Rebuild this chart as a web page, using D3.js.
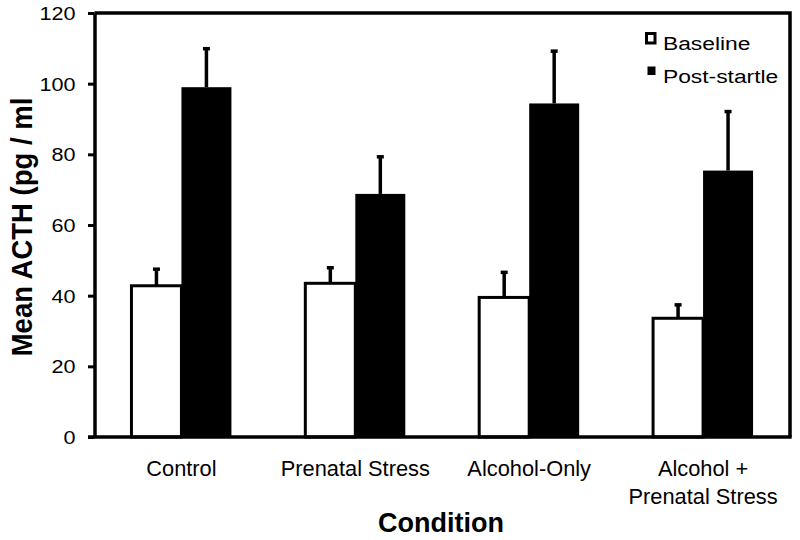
<!DOCTYPE html>
<html>
<head>
<meta charset="utf-8">
<script src="https://cdn.jsdelivr.net/npm/d3@7"></script>
<style>
  body { margin: 0; background: #fff; }
  svg { display: block; }
  text { font-family: "Liberation Sans", Arial, sans-serif; fill: #000; }
</style>
</head>
<body>
<svg id="chart" width="800" height="540"></svg>
<script>
const categories = ["Control", "Prenatal Stress", "Alcohol-Only", "Alcohol +\nPrenatal Stress"];
const seriesNames = ["Baseline", "Post-startle"];
const baselineValues = [42.8, 43.5, 39.5, 33.6];
const baselineErrors = [4.7, 4.4, 7.1, 3.8];
const postValues = [99.0, 68.8, 94.4, 75.4];
const postErrors = [10.9, 10.5, 14.8, 16.7];
const yTicks = [0, 20, 40, 60, 80, 100, 120];
const yTitle = "Mean ACTH (pg / ml";
const xTitle = "Condition";

const mLeft = 94.5, mRight = 790, mTop = 13, mBottom = 437;

const svg = d3.select("#chart");

const x0 = d3.scaleBand().domain(categories).range([mLeft, mRight])
  .paddingInner(0.425).paddingOuter(0.2125);
const x1 = d3.scaleBand().domain(seriesNames).range([0, x0.bandwidth()]);
const y = d3.scaleLinear().domain([0, 120]).range([mBottom, mTop]);

const data = categories.map((c, i) => ({
  cat: c,
  vals: [
    { s: "Baseline", v: baselineValues[i], e: baselineErrors[i] },
    { s: "Post-startle", v: postValues[i], e: postErrors[i] }
  ]
}));

const groups = svg.append("g").selectAll("g").data(data).join("g")
  .attr("transform", d => `translate(${x0(d.cat)},0)`);

groups.selectAll("line.stem").data(d => d.vals).join("line")
  .attr("class", "stem")
  .attr("x1", d => x1(d.s) + x1.bandwidth() / 2)
  .attr("x2", d => x1(d.s) + x1.bandwidth() / 2)
  .attr("y1", d => y(d.v))
  .attr("y2", d => y(d.v + d.e))
  .attr("stroke", "#000").attr("stroke-width", 3.5);

groups.selectAll("line.cap").data(d => d.vals).join("line")
  .attr("class", "cap")
  .attr("x1", d => x1(d.s) + x1.bandwidth() / 2 - 3.5)
  .attr("x2", d => x1(d.s) + x1.bandwidth() / 2 + 3.5)
  .attr("y1", d => y(d.v + d.e))
  .attr("y2", d => y(d.v + d.e))
  .attr("stroke", "#000").attr("stroke-width", 3.5);

groups.selectAll("rect").data(d => d.vals).join("rect")
  .attr("x", d => x1(d.s))
  .attr("y", d => y(d.v))
  .attr("width", x1.bandwidth())
  .attr("height", d => y(0) - y(d.v))
  .attr("fill", d => d.s === "Baseline" ? "#fff" : "#000")
  .attr("stroke", "#000")
  .attr("stroke-width", d => d.s === "Baseline" ? 3 : 0);

svg.append("path")
  .attr("d", `M${mLeft},${mTop}H${mRight}V${mBottom}`)
  .attr("fill", "none").attr("stroke", "#000").attr("stroke-width", 3.5);

const yAxis = svg.append("g").attr("transform", `translate(${mLeft},0)`)
  .call(d3.axisLeft(y).tickValues(yTicks).tickSize(6.5).tickSizeOuter(0));
yAxis.select(".domain").attr("stroke-width", 3.5);
yAxis.selectAll(".tick line").attr("stroke-width", 3);
yAxis.selectAll(".tick text")
  .attr("x", null).attr("dy", "0.36em")
  .attr("transform", `translate(-19,0) scale(1.2,1)`)
  .style("font-size", "18px");

const xAxis = svg.append("g").attr("transform", `translate(0,${mBottom})`)
  .call(d3.axisBottom(x0).tickSize(0).tickSizeOuter(0));
xAxis.select(".domain").attr("stroke-width", 3.5)
  .attr("d", `M${mLeft - 6.5},0H${mRight + 1.7}`);
xAxis.selectAll(".tick text").each(function(d) {
  const t = d3.select(this);
  t.text(null).attr("y", null).attr("dy", null)
    .attr("transform", `translate(0,39) scale(0.97,1)`)
    .style("font-size", "22.5px");
  d.split("\n").forEach((line, i) => {
    t.append("tspan").attr("x", 0).attr("y", i * 28).text(line);
  });
});

svg.append("text")
  .attr("transform", `translate(32,227) scale(1.07,1) rotate(-90)`)
  .attr("text-anchor", "middle")
  .style("font-size", "27.5px").style("font-weight", "bold")
  .text(yTitle);

svg.append("text")
  .attr("transform", `translate(441,532)`)
  .attr("text-anchor", "middle")
  .style("font-size", "27px").style("font-weight", "bold")
  .text(xTitle);

const legend = svg.append("g");
const legendItems = legend.selectAll("g").data(seriesNames).join("g")
  .attr("transform", (d, i) => `translate(645,${32 + i * 33})`);
legendItems.append("rect")
  .attr("x", (d, i) => i === 0 ? 1.5 : 2.5)
  .attr("y", 1.5)
  .attr("width", (d, i) => i === 0 ? 8.5 : 8)
  .attr("height", (d, i) => i === 0 ? 9.5 : 8.5)
  .attr("fill", (d, i) => i === 0 ? "#fff" : "#000")
  .attr("stroke", "#000")
  .attr("stroke-width", (d, i) => i === 0 ? 3 : 0);
legendItems.append("text")
  .attr("transform", `translate(18,17.5) scale(1.2,1)`)
  .style("font-size", "19px")
  .text(d => d);
</script>
</body>
</html>
